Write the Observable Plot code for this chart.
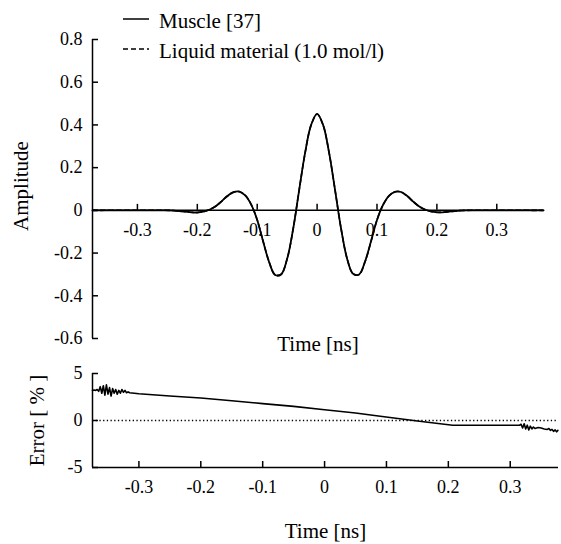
<!DOCTYPE html>
<html>
<head>
<meta charset="utf-8">
<script src="https://cdn.jsdelivr.net/npm/d3@7"></script>
<script src="https://cdn.jsdelivr.net/npm/@observablehq/plot@0.6"></script>
<style>
  html, body { margin: 0; padding: 0; background: #fff; }
  #wrap { position: relative; width: 561px; height: 544px; }
  #topPanel, #bottomPanel { position: absolute; left: 0; }
  #topPanel { top: 0; }
  #bottomPanel { top: 360px; }
  #legend { position: absolute; left: 0; top: 0; }
  svg, svg text { font-family: "Liberation Serif", "Times New Roman", Times, "DejaVu Serif", serif !important; }
</style>
</head>
<body>
<div id="wrap">
  <div id="topPanel"></div>
  <div id="bottomPanel"></div>
  <svg id="legend" width="400" height="62"></svg>
</div>
<script>
// ---- data ----
const xDomain = [-0.375, 0.378];
const xTicks = [-0.3, -0.2, -0.1, 0, 0.1, 0.2, 0.3];
const ampTicks = [0.8, 0.6, 0.4, 0.2, 0, -0.2, -0.4, -0.6];
const errTicks = [5, 0, -5];

const waveTime = [-0.375, -0.25, -0.24, -0.23, -0.22, -0.21, -0.20, -0.19, -0.18, -0.17, -0.16, -0.15, -0.14, -0.13, -0.12, -0.11, -0.10, -0.09, -0.08, -0.07, -0.06, -0.05, -0.04, -0.03, -0.02, -0.01, 0,
  0.01, 0.02, 0.03, 0.04, 0.05, 0.06, 0.07, 0.08, 0.09, 0.10, 0.11, 0.12, 0.13, 0.14, 0.15, 0.16, 0.17, 0.18, 0.19, 0.20, 0.21, 0.22, 0.23, 0.24, 0.25, 0.378];
const muscle = [0, 0, -0.001, -0.003, -0.006, -0.009, -0.010, -0.006, 0.003, 0.018, 0.041, 0.067, 0.085, 0.088, 0.070, 0.027, -0.045, -0.147, -0.243, -0.303, -0.300, -0.227, -0.087, 0.094, 0.270, 0.400, 0.452,
  0.400, 0.270, 0.095, -0.085, -0.225, -0.297, -0.300, -0.240, -0.145, -0.045, 0.025, 0.068, 0.087, 0.086, 0.068, 0.042, 0.019, 0.004, -0.005, -0.009, -0.009, -0.006, -0.003, -0.001, 0, 0];
const liquid = [0, 0, -0.001, -0.003, -0.006, -0.009, -0.010, -0.006, 0.003, 0.018, 0.041, 0.066, 0.084, 0.088, 0.070, 0.027, -0.045, -0.146, -0.242, -0.302, -0.299, -0.227, -0.087, 0.094, 0.269, 0.399, 0.451,
  0.399, 0.270, 0.095, -0.085, -0.225, -0.297, -0.301, -0.241, -0.146, -0.045, 0.025, 0.068, 0.087, 0.086, 0.068, 0.042, 0.019, 0.004, -0.005, -0.009, -0.009, -0.006, -0.003, -0.001, 0, 0];

const errTime = [-0.375, -0.3725, -0.37, -0.3675, -0.365, -0.3625, -0.36, -0.3575, -0.355, -0.3525, -0.35, -0.3475, -0.345, -0.3425, -0.34, -0.3375, -0.335, -0.3325, -0.33, -0.3275, -0.325, -0.3225, -0.32, -0.3175, -0.315,
  -0.30, -0.25, -0.20, -0.15, -0.10, -0.05, 0, 0.05, 0.09, 0.15, 0.207, 0.26, 0.315,
  0.3175, 0.32, 0.3225, 0.325, 0.3275, 0.33, 0.3325, 0.335, 0.3375, 0.34, 0.345, 0.35, 0.355, 0.36, 0.3625, 0.365, 0.3675, 0.37, 0.3725, 0.375, 0.377];
const errValue = [3.2, 3.25, 3.2, 3.3, 3.1, 3.6, 2.9, 3.7, 2.7, 3.8, 2.8, 3.5, 2.6, 3.4, 2.9, 3.3, 2.8, 3.2, 2.9, 3.3, 3.0, 3.2, 2.95, 3.05, 2.95,
  2.85, 2.6, 2.4, 2.1, 1.8, 1.5, 1.15, 0.8, 0.45, -0.05, -0.5, -0.5, -0.5,
  -0.4, -0.8, -0.35, -0.9, -0.5, -1.0, -0.6, -0.9, -0.7, -0.85, -0.75, -0.8, -0.9, -0.95, -0.85, -1.05, -0.95, -1.15, -1.0, -1.2, -1.05];

const legendLabels = ["Muscle [37]", "Liquid material (1.0 mol/l)"];
const xLabel = "Time [ns]";
const ampLabel = "Amplitude";
const errLabel = "Error [ % ]";

// ---- build tables ----
const waveM = waveTime.map((t, i) => ({t, v: muscle[i]}));
const waveL = waveTime.map((t, i) => ({t, v: liquid[i]}));
const errData = errTime.map((t, i) => ({t, v: errValue[i]}));

const font = "'Liberation Serif', 'Times New Roman', Times, serif";
const fmt = d => String(d);

const topChart = Plot.plot({
  width: 561, height: 360,
  marginLeft: 92, marginRight: 18, marginTop: 39, marginBottom: 22,
  x: {domain: xDomain, axis: null},
  y: {domain: [-0.6, 0.8], axis: null},
  style: {fontFamily: font, color: "black", background: "white"},
  marks: [
    Plot.ruleX([xDomain[0]], {stroke: "black", strokeWidth: 1.5}),
    Plot.ruleY(ampTicks, {y: d => d, x1: xDomain[0], x2: xDomain[0], insetRight: -6, stroke: "black", strokeWidth: 1.5}),
    Plot.text(ampTicks, {x: xDomain[0], y: d => d, text: fmt, textAnchor: "end", dx: -10, fontSize: 18}),
    Plot.ruleY([0], {stroke: "black", strokeWidth: 1.5}),
    Plot.ruleX(xTicks, {x: d => d, y1: 0, y2: 0, insetTop: -6, stroke: "black", strokeWidth: 1.5}),
    Plot.text(xTicks, {x: d => d, y: 0, text: fmt, dy: 20, fontSize: 18}),
    Plot.line(waveL, {x: "t", y: "v", curve: "catmull-rom", stroke: "black", strokeWidth: 1.6, strokeDasharray: "5,3"}),
    Plot.line(waveM, {x: "t", y: "v", curve: "catmull-rom", stroke: "black", strokeWidth: 1.8}),
    Plot.text([xLabel], {frameAnchor: "bottom", lineAnchor: "middle", textAnchor: "middle", dy: 6, fontSize: 21}),
    Plot.text([ampLabel], {frameAnchor: "left", textAnchor: "middle", lineAnchor: "middle", rotate: -90, dx: -71, dy: -3, fontSize: 21})
  ]
});
document.getElementById("topPanel").appendChild(topChart);

const bottomChart = Plot.plot({
  width: 561, height: 184,
  marginLeft: 92, marginRight: 3, marginTop: 13, marginBottom: 77,
  x: {domain: xDomain, axis: null},
  y: {domain: [-5, 5], axis: null},
  style: {fontFamily: font, color: "black", background: "white"},
  marks: [
    Plot.ruleY([0], {stroke: "black", strokeWidth: 1.3, strokeDasharray: "1.3,2.4"}),
    Plot.ruleX([xDomain[0]], {stroke: "black", strokeWidth: 1.5}),
    Plot.ruleY([-5], {stroke: "black", strokeWidth: 1.5}),
    Plot.ruleY(errTicks, {y: d => d, x1: xDomain[0], x2: xDomain[0], insetRight: -6, stroke: "black", strokeWidth: 1.5}),
    Plot.text(errTicks, {x: xDomain[0], y: d => d, text: fmt, textAnchor: "end", dx: -10, fontSize: 18}),
    Plot.ruleX(xTicks, {x: d => d, y1: -5, y2: -5, insetTop: -6, stroke: "black", strokeWidth: 1.5}),
    Plot.text(xTicks, {x: d => d, y: -5, text: fmt, dy: 20, fontSize: 18}),
    Plot.line(errData, {x: "t", y: "v", stroke: "black", strokeWidth: 1.6}),
    Plot.text([xLabel], {frameAnchor: "bottom", lineAnchor: "middle", textAnchor: "middle", dy: 64, fontSize: 21}),
    Plot.text([errLabel], {frameAnchor: "left", textAnchor: "middle", lineAnchor: "middle", rotate: -90, dx: -55, fontSize: 21})
  ]
});
document.getElementById("bottomPanel").appendChild(bottomChart);

// legend
const lg = d3.select("#legend");
const dashes = [null, "5,3"];
legendLabels.forEach((label, i) => {
  const yLine = 19 + i * 30;
  lg.append("line").attr("x1", 123).attr("x2", 149).attr("y1", yLine).attr("y2", yLine)
    .attr("stroke", "black").attr("stroke-width", 1.5).attr("stroke-dasharray", dashes[i]);
  lg.append("text").attr("x", 159).attr("y", yLine + 8.5)
    .attr("font-size", 21).attr("fill", "black").text(label);
});
</script>
</body>
</html>
